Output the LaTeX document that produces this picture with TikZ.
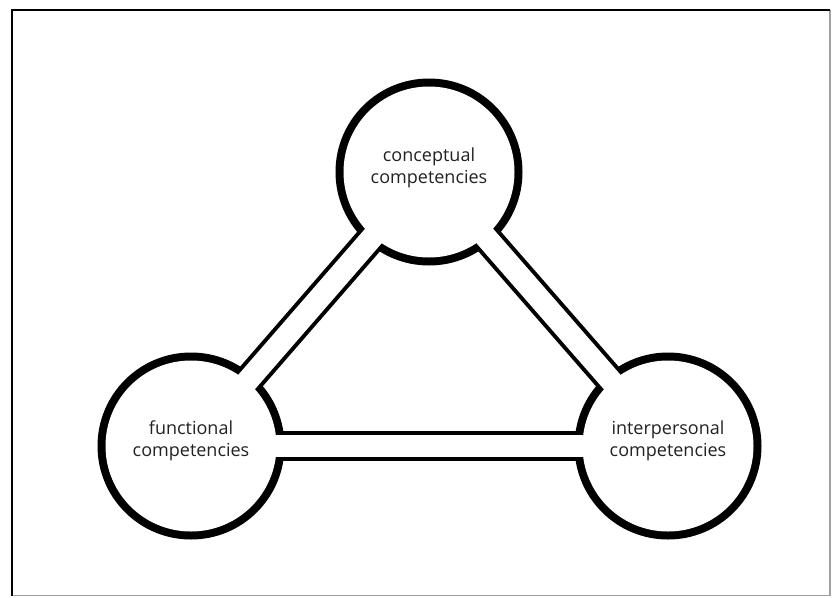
\documentclass[tikz,border=0pt]{standalone}
\usepackage{fontspec}
\setmainfont{Open Sans}
\definecolor{txt}{HTML}{222222}
\definecolor{frameg}{HTML}{A0A0A0}
\tikzset{
  band/.style={line width=30pt, black},
  bandin/.style={line width=22pt, white},
  disk/.style={circle, fill=black, minimum size=187pt, inner sep=0pt},
  diskin/.style={circle, fill=white, minimum size=171pt, inner sep=0pt},
  lbl/.style={align=center, text=txt, font=\fontsize{18pt}{22pt}\selectfont, inner sep=0pt}
}
\begin{document}
\begin{tikzpicture}[x=1pt,y=-1pt]
\useasboundingbox (0,0) rectangle (835,597);
\fill[white] (0,0) rectangle (835,597);
% frame
\draw[frameg, line width=1.5pt] (830,10) -- (830,595.5) -- (12,595.5);
\draw[black, line width=2pt] (12,596) -- (12,10) -- (830,10);
% centres
\coordinate (C) at (429,172);
\coordinate (F) at (191,446);
\coordinate (I) at (668,446);
% outer black shapes
\draw[band] (C) -- (F);
\draw[band] (C) -- (I);
\draw[band] (F) -- (I);
\node[disk] (cd) at (C) {};
\node[disk] (fd) at (F) {};
\node[disk] (id) at (I) {};
% inner white shapes
\draw[bandin] (cd.center) -- (fd.center);
\draw[bandin] (cd.center) -- (id.center);
\draw[bandin] (fd.center) -- (id.center);
\node[diskin] (cw) at (C) {};
\node[diskin] (fw) at (F) {};
\node[diskin] (iw) at (I) {};
% labels
\node[lbl] (ct) at ([yshift=4pt]C) {conceptual\\competencies};
\node[lbl] (ft) at ([yshift=5.5pt]F) {functional\\competencies};
\node[lbl] (it) at ([yshift=5.5pt]I) {interpersonal\\competencies};
\end{tikzpicture}
\end{document}
